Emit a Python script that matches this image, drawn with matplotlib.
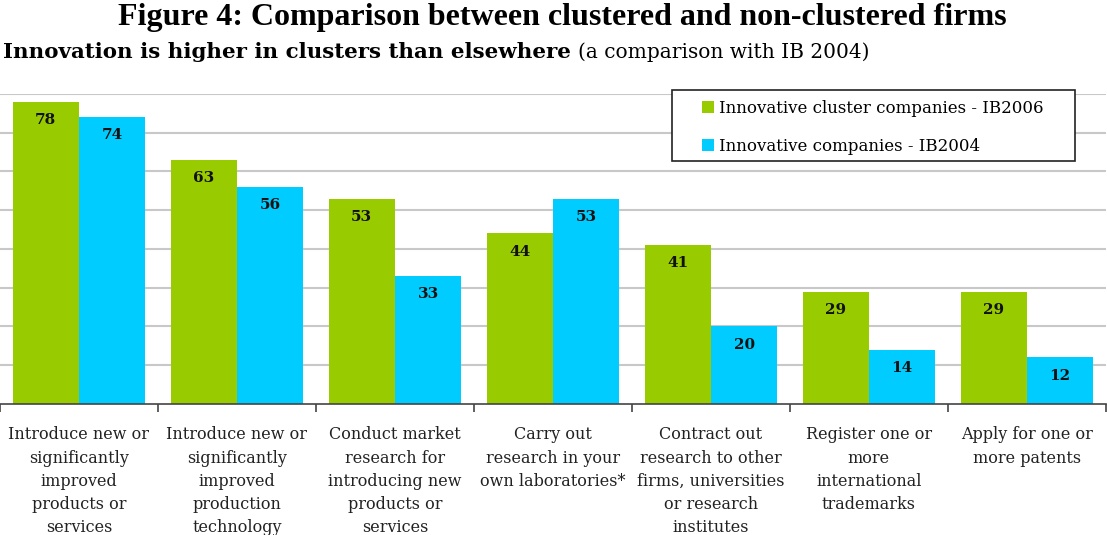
import numpy as np
import matplotlib.pyplot as plt
from matplotlib.patches import Rectangle

categories = [
    "Introduce new or\nsignificantly\nimproved\nproducts or\nservices",
    "Introduce new or\nsignificantly\nimproved\nproduction\ntechnology",
    "Conduct market\nresearch for\nintroducing new\nproducts or\nservices",
    "Carry out\nresearch in your\nown laboratories*",
    "Contract out\nresearch to other\nfirms, universities\nor research\ninstitutes",
    "Register one or\nmore\ninternational\ntrademarks",
    "Apply for one or\nmore patents",
]
cluster_2006 = [78, 63, 53, 44, 41, 29, 29]
innov_2004 = [74, 56, 33, 53, 20, 14, 12]
series_names = ["Innovative cluster companies - IB2006", "Innovative companies - IB2004"]

green = "#99cc00"
cyan = "#00ccff"
times = "Liberation Serif"
body = "DejaVu Serif"

fig = plt.figure(figsize=(11.07, 5.35), dpi=100)
ax = fig.add_axes([0.0, 0.2449, 0.999, 0.5794])

x = np.arange(len(categories))
w = 0.42
b1 = ax.bar(x - w / 2, cluster_2006, w, color=green, label=series_names[0], zorder=2)
b2 = ax.bar(x + w / 2, innov_2004, w, color=cyan, label=series_names[1], zorder=2)

for bars, vals in [(b1, cluster_2006), (b2, innov_2004)]:
    for r, v in zip(bars, vals):
        ax.annotate(str(v), (r.get_x() + r.get_width() / 2, v), xytext=(0, -13),
                    textcoords="offset points", ha="center", va="center",
                    fontsize=11, fontweight="bold", family=body, color="#111111", zorder=3)

ax.set_xlim(-0.5, len(categories) - 0.5)
ax.set_ylim(0, 80)
ax.set_yticks(np.arange(10, 81, 10))
ax.yaxis.grid(True, color="#c8c8c8", lw=1.5, zorder=0)
ax.tick_params(axis="y", left=False, labelleft=False)
for s in ["top", "left", "right"]:
    ax.spines[s].set_visible(False)
ax.spines["bottom"].set_color("#444444")
ax.spines["bottom"].set_linewidth(1.2)

# tick marks between categories, labels centred on categories
ax.set_xticks(np.arange(len(categories) + 1) - 0.5)
ax.set_xticklabels([])
ax.tick_params(axis="x", length=6, color="#444444", width=1.2)
for i, lab in enumerate(categories):
    ax.text(i, -5.8, lab, ha="center", va="top", fontsize=11.5, family=body,
            linespacing=1.47, color="#222222")

# legend without its own frame, boxed separately to get the wide padding
box = Rectangle((0.607, 0.699), 0.364, 0.1327, transform=fig.transFigure, fill=True,
                facecolor="white", edgecolor="#222222", lw=1.2, zorder=4, clip_on=False)
ax.add_patch(box)
leg = ax.legend(loc="upper left", bbox_to_anchor=(0.627, 0.829), bbox_transform=fig.transFigure,
                frameon=False, prop={"family": body, "size": 12}, handlelength=0.7,
                handleheight=0.7, handletextpad=0.3, borderpad=0, labelspacing=1.28)
leg.set_zorder(5)

fig.text(0.508, 0.967, "Figure 4: Comparison between clustered and non-clustered firms",
         ha="center", va="center", fontsize=23, fontweight="bold", family=times)
t = fig.text(0.003, 0.903, "Innovation is higher in clusters than elsewhere", ha="left", va="center",
             fontsize=15.4, fontweight="bold", family=body)
fig.canvas.draw()
bb = t.get_window_extent()
fig.text(bb.x1 / fig.bbox.width + 0.006, 0.903, "(a comparison with IB 2004)", ha="left", va="center",
         fontsize=14.5, family=body)

fig.savefig("out.png", dpi=100)
